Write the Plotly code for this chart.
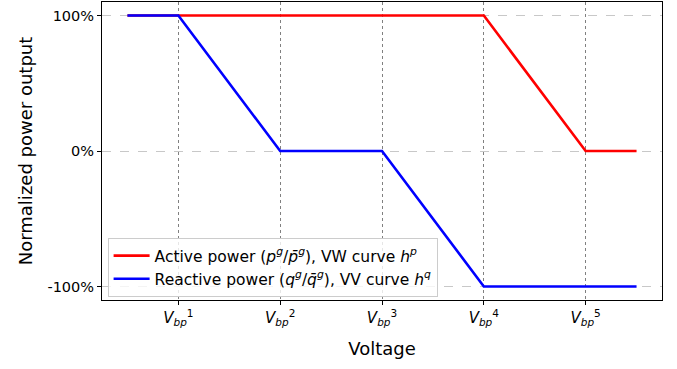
import plotly.graph_objects as go

# Data
active_x = [0.5, 4, 5, 5.5]
active_y = [1, 1, 0, 0]
reactive_x = [0.5, 1, 2, 3, 4, 5.5]
reactive_y = [1, 1, 0, 0, -1, -1]
x_tickvals = [1, 2, 3, 4, 5]
x_ticktext = [f"<i>V</i><sub><i>bp</i></sub><sup>{i}</sup>" for i in range(1, 6)]
y_tickvals = [-1, 0, 1]
y_ticktext = ["-100%", "0%", "100%"]

font = "DejaVu Sans"
fig = go.Figure()
fig.add_trace(go.Scatter(x=active_x, y=active_y, mode="lines",
                         line=dict(color="red", width=2.6),
                         name="Active power (<i>p<sup>g</sup></i>/<i>p̄<sup>g</sup></i>), VW curve <i>h<sup>p</sup></i>"))
fig.add_trace(go.Scatter(x=reactive_x, y=reactive_y, mode="lines",
                         line=dict(color="blue", width=2.6),
                         name="Reactive power (<i>q<sup>g</sup></i>/<i>q̄<sup>g</sup></i>), VV curve <i>h<sup>q</sup></i>"))

fig.update_layout(
    width=677, height=369,
    margin=dict(l=102, r=15, t=2, b=69),
    plot_bgcolor="white", paper_bgcolor="white",
    font=dict(family=font, size=14, color="black"),
    showlegend=True,
    legend=dict(x=0.01, y=0.01, xanchor="left", yanchor="bottom",
                bgcolor="rgba(255,255,255,0.8)", bordercolor="#cccccc", borderwidth=1,
                font=dict(size=15.5), tracegroupgap=0, itemwidth=36),
    xaxis=dict(range=[0.25, 5.75], tickvals=x_tickvals, ticktext=x_ticktext,
               showline=True, linecolor="black", linewidth=1, mirror=True,
               ticks="outside", ticklen=4, tickcolor="black",
               showgrid=True, gridcolor="#808080", griddash="dot", gridwidth=1,
               zeroline=False,
               title=dict(text="Voltage", font=dict(size=18), standoff=15),
               tickfont=dict(size=15)),
    yaxis=dict(range=[-1.1, 1.1], tickvals=y_tickvals, ticktext=y_ticktext,
               showline=True, linecolor="black", linewidth=1, mirror=True,
               ticks="outside", ticklen=4, tickcolor="black",
               showgrid=True, gridcolor="#c8c8c8", griddash="dash", gridwidth=1,
               zeroline=False, tickfont=dict(size=14.5),
               title=dict(text="Normalized power output", font=dict(size=18), standoff=10)),
)
fig.write_html("out.html")
